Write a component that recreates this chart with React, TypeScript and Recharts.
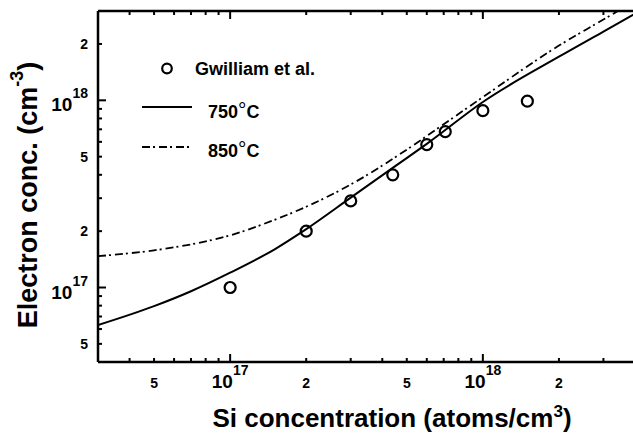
import React from 'react';
import { ComposedChart, Line, Scatter, XAxis, YAxis, Legend } from 'recharts';

// Gwilliam et al. measurements
const gwSi = [1.0e17, 2.0e17, 3.0e17, 4.4e17, 6.0e17, 7.1e17, 1.0e18, 1.5e18];
const gwElectron = [1.0e17, 2.0e17, 2.9e17, 4.0e17, 5.8e17, 6.8e17, 8.8e17, 9.9e17];

// 750 C curve
const si750 = [3e16, 5e16, 7e16, 1e17, 1.5e17, 2e17, 3e17, 4.5e17, 6e17, 1e18, 2e18, 3e18, 4e18];
const electron750 = [6.3e16, 7.95e16, 9.55e16, 1.2e17, 1.6e17, 2.05e17, 3.02e17, 4.45e17, 5.85e17, 9.8e17, 1.71e18, 2.33e18, 2.9e18];

// 850 C curve
const si850 = [3e16, 5e16, 7e16, 1e17, 1.5e17, 2e17, 3e17, 5e17, 7e17, 1e18, 2e18, 3e18, 4e18];
const electron850 = [1.47e17, 1.58e17, 1.7e17, 1.9e17, 2.3e17, 2.7e17, 3.55e17, 5.45e17, 7.45e17, 1.04e18, 1.96e18, 2.7e18, 3.4e18];

// axis ticks
const xTicks = [4e16, 5e16, 6e16, 7e16, 8e16, 9e16, 1e17, 2e17, 3e17, 4e17, 5e17, 6e17, 7e17, 8e17, 9e17, 1e18, 2e18, 3e18];
const yTicks = [5e16, 6e16, 7e16, 8e16, 9e16, 1e17, 2e17, 3e17, 4e17, 5e17, 6e17, 7e17, 8e17, 9e17, 1e18, 2e18];
const decadeTicks = [1e17, 1e18];
const decadeExp = ['17', '18'];
const xLabeled = [5e16, 2e17, 5e17, 2e18];
const xLabeledText = ['5', '2', '5', '2'];
const yLabeled = [5e16, 2e17, 5e17, 2e18];
const yLabeledText = ['5', '2', '5', '2'];

const FONT = '"Liberation Sans", Arial, Helvetica, sans-serif';

const gwData = gwSi.map((x, i) => ({ x, y: gwElectron[i] }));
const data750 = si750.map((x, i) => ({ x, y: electron750[i] }));
const data850 = si850.map((x, i) => ({ x, y: electron850[i] }));

const findIn = (arr: number[], v: number) => arr.findIndex((t) => Math.abs(v / t - 1) < 1e-6);

const BottomTick = (props: any) => {
  const { x, y, payload } = props;
  const v = payload.value;
  const d = findIn(decadeTicks, v);
  const l = findIn(xLabeled, v);
  return (
    <g>
      <line x1={x} x2={x} y1={y} y2={y - (d >= 0 ? 8 : 4)} stroke="#000" strokeWidth={2} />
      {d >= 0 && (
        <text x={x} y={y + 26} textAnchor="middle" fontFamily={FONT} fontWeight="bold" fontSize={19} fill="#000">
          10<tspan dy={-13} fontSize={14}>{decadeExp[d]}</tspan>
        </text>
      )}
      {l >= 0 && (
        <text x={x} y={y + 26} textAnchor="middle" fontFamily={FONT} fontWeight="bold" fontSize={14} fill="#000">
          {xLabeledText[l]}
        </text>
      )}
    </g>
  );
};

const TopTick = (props: any) => {
  const { x, y, payload } = props;
  const d = findIn(decadeTicks, payload.value);
  return <line x1={x} x2={x} y1={y} y2={y + (d >= 0 ? 8 : 4)} stroke="#000" strokeWidth={2} />;
};

const LeftTick = (props: any) => {
  const { x, y, payload } = props;
  const v = payload.value;
  const d = findIn(decadeTicks, v);
  const l = findIn(yLabeled, v);
  return (
    <g>
      <line x1={x} x2={x + (d >= 0 ? 8 : 4)} y1={y} y2={y} stroke="#000" strokeWidth={2} />
      {d >= 0 && (
        <text x={x - 10} y={y + 11} textAnchor="end" fontFamily={FONT} fontWeight="bold" fontSize={19} fill="#000">
          10<tspan dy={-13} fontSize={14}>{decadeExp[d]}</tspan>
        </text>
      )}
      {l >= 0 && (
        <text x={x - 10} y={y + 5} textAnchor="end" fontFamily={FONT} fontWeight="bold" fontSize={14} fill="#000">
          {yLabeledText[l]}
        </text>
      )}
    </g>
  );
};

const XTitle = () => (
  <text x={392} y={427} textAnchor="middle" fontFamily={FONT} fontWeight="bold" fontSize={26} fill="#000">
    Si concentration (atoms/cm<tspan dy={-10} fontSize={17}>3</tspan>
    <tspan dy={10}>)</tspan>
  </text>
);

const YTitle = () => (
  <text
    x={37}
    y={195}
    transform="rotate(-90, 37, 195)"
    textAnchor="middle"
    fontFamily={FONT}
    fontWeight="bold"
    fontSize={27}
    fill="#000"
  >
    Electron conc. (cm<tspan dy={-14} fontSize={18}>-3</tspan>
    <tspan dy={14}>)</tspan>
  </text>
);

const Circle = (props: any) => (
  <circle cx={props.cx} cy={props.cy} r={5.5} fill="none" stroke="#000" strokeWidth={2.2} />
);

const LegendBox = () => (
  <svg width={220} height={110} style={{ overflow: 'visible' }}>
    <circle cx={29} cy={13.5} r={4.8} fill="none" stroke="#000" strokeWidth={2.2} />
    <text x={57} y={19.5} fontFamily={FONT} fontWeight="bold" fontSize={18} fill="#000">
      Gwilliam et al.
    </text>
    <line x1={4} x2={54} y1={52} y2={52} stroke="#000" strokeWidth={2} />
    <text x={70} y={62.5} fontFamily={FONT} fontWeight="bold" fontSize={18} fill="#000">
      750<tspan fontWeight="normal" fontSize={21} dy={-1}>°</tspan>
      <tspan dy={1}>C</tspan>
    </text>
    <line x1={4} x2={54} y1={92} y2={92} stroke="#000" strokeWidth={1.8} strokeDasharray="8 3 2 4" />
    <text x={70} y={101.5} fontFamily={FONT} fontWeight="bold" fontSize={18} fill="#000">
      850<tspan fontWeight="normal" fontSize={21} dy={-1}>°</tspan>
      <tspan dy={1}>C</tspan>
    </text>
  </svg>
);

const axisStyle = { stroke: '#000', strokeWidth: 2.5 };

export default function App() {
  return (
    <div style={{ position: 'absolute', left: 0, top: 0, width: 633, height: 436, overflow: 'hidden', background: '#fff' }}>
      <ComposedChart width={660} height={436} margin={{ top: 1, right: 25, bottom: 0, left: 0 }}>
        <XAxis
          dataKey="x"
          type="number"
          scale="log"
          domain={[3e16, 4e18]}
          allowDataOverflow
          ticks={xTicks}
          interval={0}
          tick={(p: any) => <BottomTick {...p} />}
          tickLine={false}
          tickSize={0}
          tickMargin={0}
          axisLine={axisStyle}
          height={74}
          label={{ content: () => <XTitle /> }}
        />
        <XAxis
          xAxisId="top"
          orientation="top"
          dataKey="x"
          type="number"
          scale="log"
          domain={[3e16, 4e18]}
          allowDataOverflow
          ticks={xTicks}
          interval={0}
          tick={(p: any) => <TopTick {...p} />}
          tickLine={false}
          tickSize={0}
          tickMargin={0}
          axisLine={axisStyle}
          height={10}
        />
        <YAxis
          dataKey="y"
          type="number"
          scale="log"
          domain={[4e16, 3e18]}
          allowDataOverflow
          ticks={yTicks}
          interval={0}
          tick={(p: any) => <LeftTick {...p} />}
          tickLine={false}
          tickSize={0}
          tickMargin={0}
          axisLine={axisStyle}
          width={98}
          label={{ content: () => <YTitle /> }}
        />
        <Legend
          content={() => <LegendBox />}
          layout="vertical"
          align="center"
          verticalAlign="middle"
          wrapperStyle={{ left: 138, top: 55, width: 220, height: 110 }}
        />
        <Line data={data850} dataKey="y" type="monotone" stroke="#000" strokeWidth={1.8} strokeDasharray="8 3 2 4" dot={false} isAnimationActive={false} />
        <Line data={data750} dataKey="y" type="monotone" stroke="#000" strokeWidth={2} dot={false} isAnimationActive={false} />
        <Scatter data={gwData} dataKey="y" shape={Circle} isAnimationActive={false} />
      </ComposedChart>
    </div>
  );
}
